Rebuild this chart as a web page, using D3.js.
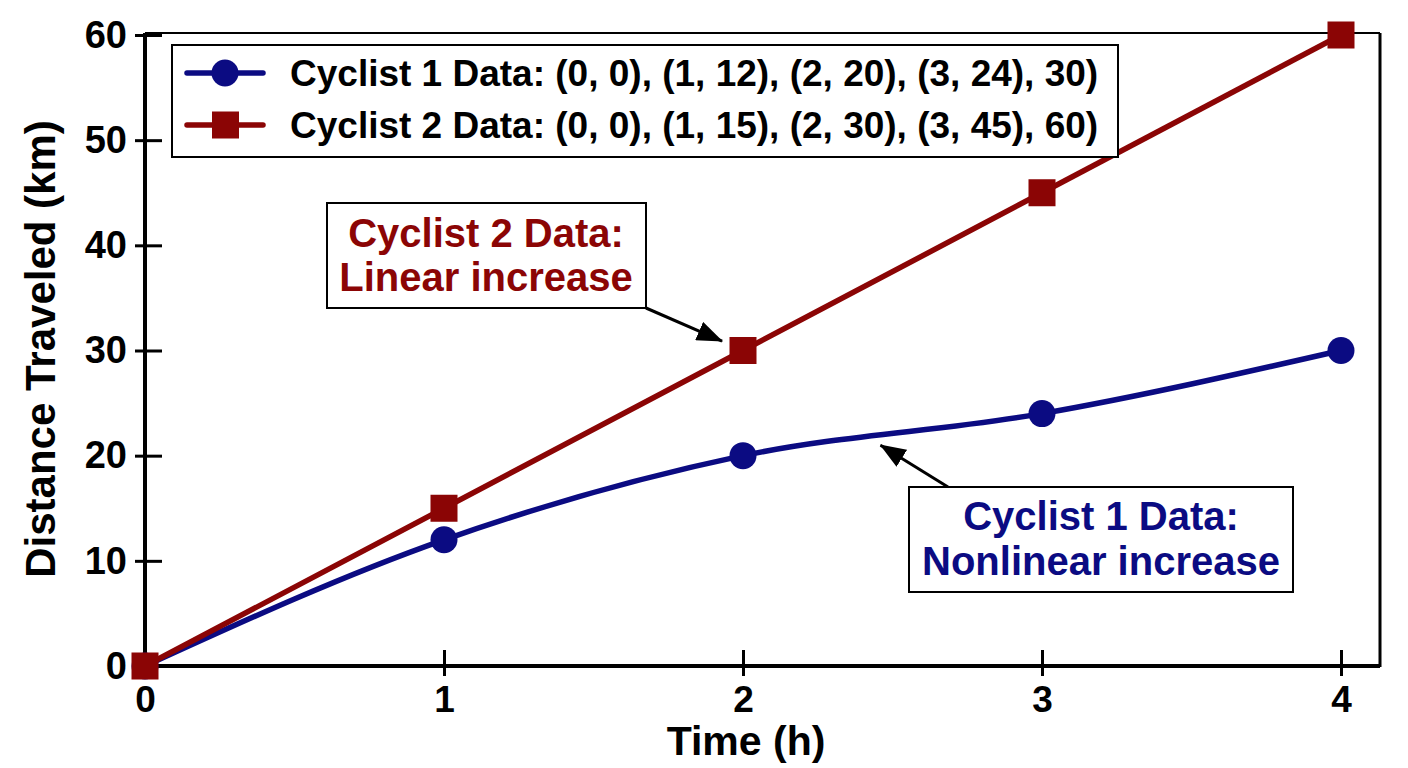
<!DOCTYPE html>
<html>
<head>
<meta charset="utf-8">
<script src="https://d3js.org/d3.v7.min.js"></script>
<style>
  body { margin: 0; background: #fff; }
  svg text { font-family: "Liberation Sans", Arial, Helvetica, sans-serif; font-weight: bold; }
</style>
</head>
<body>
<script>
// data
var hours = [0, 1, 2, 3, 4];
var cyclist1 = [0, 12, 20, 24, 30];
var cyclist2 = [0, 15, 30, 45, 60];
var xTicks = [0, 1, 2, 3, 4];
var yTicks = [0, 10, 20, 30, 40, 50, 60];
var legendLabels = [
  "Cyclist 1 Data: (0, 0), (1, 12), (2, 20), (3, 24), 30)",
  "Cyclist 2 Data: (0, 0), (1, 15), (2, 30), (3, 45), 60)"
];

var width = 1408, height = 768;
var blue = "#0b0b82", red = "#8b0505";

var svg = d3.select("body").append("svg")
  .attr("width", width)
  .attr("height", height);

var x = d3.scaleLinear().domain([0, 4]).range([145, 1341]);
var y = d3.scaleLinear().domain([0, 60]).range([666, 35]);

// frame (top + right)
svg.append("line").attr("x1", 145).attr("x2", 1380).attr("y1", 33).attr("y2", 33)
  .attr("stroke", "#000").attr("stroke-width", 2);
svg.append("line").attr("x1", 1380).attr("x2", 1380).attr("y1", 33).attr("y2", 667)
  .attr("stroke", "#000").attr("stroke-width", 3);

// axes
var xAxis = svg.append("g")
  .attr("transform", "translate(0," + y(0) + ")")
  .call(d3.axisBottom(x).tickValues(xTicks).tickFormat(d3.format("d")).tickSize(10).tickPadding(10));
xAxis.select(".domain").attr("d", "M145,0H1380").attr("stroke-width", 4);
xAxis.selectAll(".tick line").attr("y1", -16).attr("y2", 10).attr("stroke-width", 3);
xAxis.selectAll(".tick text").style("font-size", "37px").attr("fill", "#000");

var yAxis = svg.append("g")
  .attr("transform", "translate(" + x(0) + ",0)")
  .call(d3.axisLeft(y).tickValues(yTicks).tickFormat(d3.format("d")).tickSize(10).tickPadding(8));
yAxis.select(".domain").attr("d", "M0,33V668").attr("stroke-width", 4);
yAxis.selectAll(".tick line").attr("x1", -10).attr("x2", 17).attr("stroke-width", 3);
yAxis.selectAll(".tick text").style("font-size", "38px").attr("fill", "#000");

// axis titles
svg.append("text").attr("x", 746).attr("y", 755).attr("text-anchor", "middle")
  .style("font-size", "41px").text("Time (h)");
svg.append("text").attr("transform", "translate(55,349) rotate(-90)").attr("text-anchor", "middle")
  .style("font-size", "42px").text("Distance Traveled (km)");

// series
var pts1 = hours.map(function (h, i) { return [h, cyclist1[i]]; });
var pts2 = hours.map(function (h, i) { return [h, cyclist2[i]]; });

var line1 = d3.line().x(function (d) { return x(d[0]); }).y(function (d) { return y(d[1]); })
  .curve(d3.curveMonotoneX);
var line2 = d3.line().x(function (d) { return x(d[0]); }).y(function (d) { return y(d[1]); });

svg.append("path").datum(pts1).attr("d", line1)
  .attr("fill", "none").attr("stroke", blue).attr("stroke-width", 5.5);
svg.selectAll("circle.c1").data(pts1).enter().append("circle")
  .attr("class", "c1")
  .attr("cx", function (d) { return x(d[0]); })
  .attr("cy", function (d) { return y(d[1]); })
  .attr("r", 13.5).attr("fill", blue);

svg.append("path").datum(pts2).attr("d", line2)
  .attr("fill", "none").attr("stroke", red).attr("stroke-width", 5.5);
svg.selectAll("rect.c2").data(pts2).enter().append("rect")
  .attr("class", "c2")
  .attr("x", function (d) { return x(d[0]) - 13.5; })
  .attr("y", function (d) { return y(d[1]) - 13.5; })
  .attr("width", 27).attr("height", 27).attr("fill", red);

// legend
var legend = svg.append("g");
legend.append("rect").attr("x", 172).attr("y", 45).attr("width", 946).attr("height", 112)
  .attr("fill", "#fff").attr("stroke", "#000").attr("stroke-width", 2);
var rows = legend.selectAll("g.row").data(legendLabels).enter().append("g")
  .attr("transform", function (d, i) { return "translate(0," + (73 + i * 52) + ")"; });
rows.append("line").attr("x1", 187).attr("x2", 263).attr("y1", 0).attr("y2", 0)
  .attr("stroke", function (d, i) { return i === 0 ? blue : red; })
  .attr("stroke-width", 5.5).attr("stroke-linecap", "round");
rows.filter(function (d, i) { return i === 0; }).append("circle")
  .attr("cx", 225).attr("cy", 0).attr("r", 13.5).attr("fill", blue);
rows.filter(function (d, i) { return i === 1; }).append("rect")
  .attr("x", 212).attr("y", -13.5).attr("width", 27).attr("height", 27).attr("fill", red);
rows.append("text").attr("x", 290).attr("dy", "0.36em")
  .style("font-size", "37px").attr("fill", "#000").text(function (d) { return d; });

// arrowhead
svg.append("defs").append("marker")
  .attr("id", "arrow").attr("markerUnits", "userSpaceOnUse")
  .attr("viewBox", "0 0 26 20").attr("refX", 25).attr("refY", 10)
  .attr("markerWidth", 26).attr("markerHeight", 20).attr("orient", "auto")
  .append("path").attr("d", "M0,0L26,10L0,20Z").attr("fill", "#000");

// annotation: cyclist 2
svg.append("line").attr("x1", 646).attr("y1", 308).attr("x2", x(1.93)).attr("y2", y(30.9))
  .attr("stroke", "#000").attr("stroke-width", 3).attr("marker-end", "url(#arrow)");
svg.append("rect").attr("x", 327).attr("y", 203).attr("width", 319).attr("height", 105)
  .attr("fill", "#fff").attr("stroke", "#000").attr("stroke-width", 2);
svg.append("text").attr("x", 486).attr("y", 247).attr("text-anchor", "middle")
  .style("font-size", "40px").attr("fill", red).text("Cyclist 2 Data:");
svg.append("text").attr("x", 486).attr("y", 291).attr("text-anchor", "middle")
  .style("font-size", "40px").attr("fill", red).text("Linear increase");

// annotation: cyclist 1
svg.append("line").attr("x1", 948).attr("y1", 487).attr("x2", x(2.46)).attr("y2", y(21.0))
  .attr("stroke", "#000").attr("stroke-width", 3).attr("marker-end", "url(#arrow)");
svg.append("rect").attr("x", 909).attr("y", 487).attr("width", 384).attr("height", 105)
  .attr("fill", "#fff").attr("stroke", "#000").attr("stroke-width", 2);
svg.append("text").attr("x", 1101).attr("y", 530).attr("text-anchor", "middle")
  .style("font-size", "40px").attr("fill", blue).text("Cyclist 1 Data:");
svg.append("text").attr("x", 1101).attr("y", 575).attr("text-anchor", "middle")
  .style("font-size", "40px").attr("fill", blue).text("Nonlinear increase");
</script>
</body>
</html>
